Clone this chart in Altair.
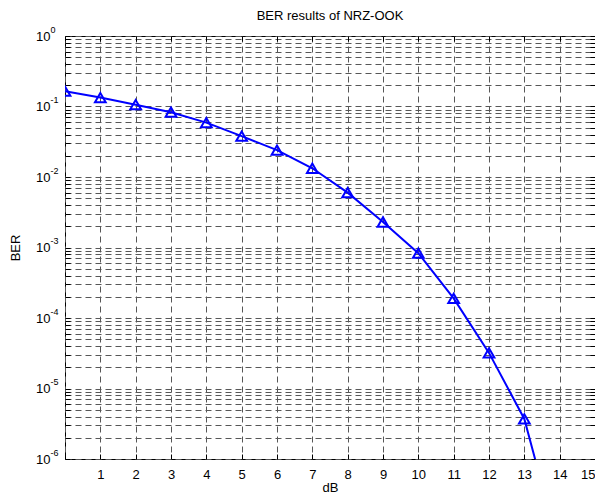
import altair as alt
import pandas as pd

# ---- data ----
snr_db = list(range(15))
ber = [0.165, 0.134, 0.106, 0.083, 0.059, 0.038, 0.024, 0.0133, 0.006,
       0.0023, 0.00083, 0.00019, 3.2e-5, 3.7e-6, 5e-8]
x_ticks = list(range(16))
decades = [1e-6, 1e-5, 1e-4, 1e-3, 1e-2, 1e-1, 1.0]
minor_grid = [m * 10.0 ** e for e in range(-6, 0) for m in range(1, 10)] + [1.0]

df = pd.DataFrame({"dB": snr_db, "BER": ber})

FONT = "Liberation Sans"
BLUE = "#0000FF"
GRID = "#575757"

xscale = alt.Scale(domain=[0, 15], nice=False, zero=False)
yscale = alt.Scale(type="log", domain=[1e-6, 1], nice=False)

x_axis = alt.Axis(
    values=x_ticks, grid=True, gridDash=[6, 4], gridColor=GRID, gridWidth=1,
    ticks=False, domain=False, labelExpr="datum.value == 0 ? '' : datum.label",
    labelFont=FONT, labelFontSize=13, labelColor="black", labelPadding=9,
    labelOverlap=False, labelFlush=True, title="dB", titleFont=FONT, titleFontSize=13,
    titleFontWeight="normal", titleColor="black", titleY=32,
    titleBaseline="alphabetic", orient="bottom",
)

y_axis_main = alt.Axis(
    values=minor_grid, grid=True, gridDash=[6, 4], gridColor=GRID, gridWidth=1,
    ticks=False, domain=False, orient="left",
    labelExpr="abs(log(datum.value)/LN10 - round(log(datum.value)/LN10)) < 0.001 ? '10' : ''",
    labelFont=FONT, labelFontSize=13, labelColor="black", labelPadding=15,
    labelAlign="right", labelBaseline="middle", labelOverlap=False,
    title="BER", titleFont=FONT, titleFontSize=13, titleFontWeight="normal",
    titleColor="black", titleX=-50, titleY=211.5, titleAngle=270,
    titleAlign="center", titleBaseline="middle",
)

y_axis_exp = alt.Axis(
    values=decades, grid=False, ticks=False, domain=False, orient="left",
    labelExpr="'' + round(log(datum.value)/LN10)",
    labelFont=FONT, labelFontSize=9, labelColor="black", labelPadding=15,
    labelAlign="left", labelBaseline="middle", labelOffset=-7, labelOverlap=False,
    title=None,
)


def inward_ticks(values, orient):
    # short solid ticks pointing into the plot, like MATLAB's box ticks
    return alt.Axis(
        values=values, orient=orient, offset=-5, ticks=True, tickSize=5,
        tickColor="black", tickWidth=1, labels=False, domain=False, grid=False,
        title=None,
    )


line = alt.Chart(df).mark_line(color=BLUE, strokeWidth=2, clip=True).encode(
    x=alt.X("dB:Q", scale=xscale, axis=x_axis),
    y=alt.Y("BER:Q", scale=yscale, axis=y_axis_main),
)

points = alt.Chart(df).mark_point(
    shape="triangle-up", filled=False, size=115, strokeWidth=2, color=BLUE,
    opacity=1, clip=True,
).encode(
    x=alt.X("dB:Q", scale=xscale, axis=None),
    y=alt.Y("BER:Q", scale=yscale, axis=y_axis_exp),
)

ticks_bl = alt.Chart(df).mark_point(opacity=0, clip=True).encode(
    x=alt.X("dB:Q", scale=xscale, axis=inward_ticks(x_ticks, "bottom")),
    y=alt.Y("BER:Q", scale=yscale, axis=inward_ticks(minor_grid, "left")),
)

ticks_tr = alt.Chart(df).mark_point(opacity=0, clip=True).encode(
    x=alt.X("dB:Q", scale=xscale, axis=inward_ticks(x_ticks, "top")),
    y=alt.Y("BER:Q", scale=yscale, axis=inward_ticks(minor_grid, "right")),
)

chart = (
    alt.layer(line, ticks_bl, ticks_tr, points)
    .resolve_axis(x="independent", y="independent")
    .properties(
        width=530, height=423,
        autosize=alt.AutoSizeParams(type="none"),
        padding={"left": 57, "top": 28, "right": 0, "bottom": 36},
        title=alt.TitleParams(
            "BER results of NRZ-OOK", font=FONT, fontSize=13, fontWeight="normal",
            color="black", anchor="middle", offset=2,
        ),
        background="white",
    )
    .configure_view(stroke="black", strokeWidth=1)
)

chart.save("out.html", embed_options={"renderer": "svg", "actions": False})
